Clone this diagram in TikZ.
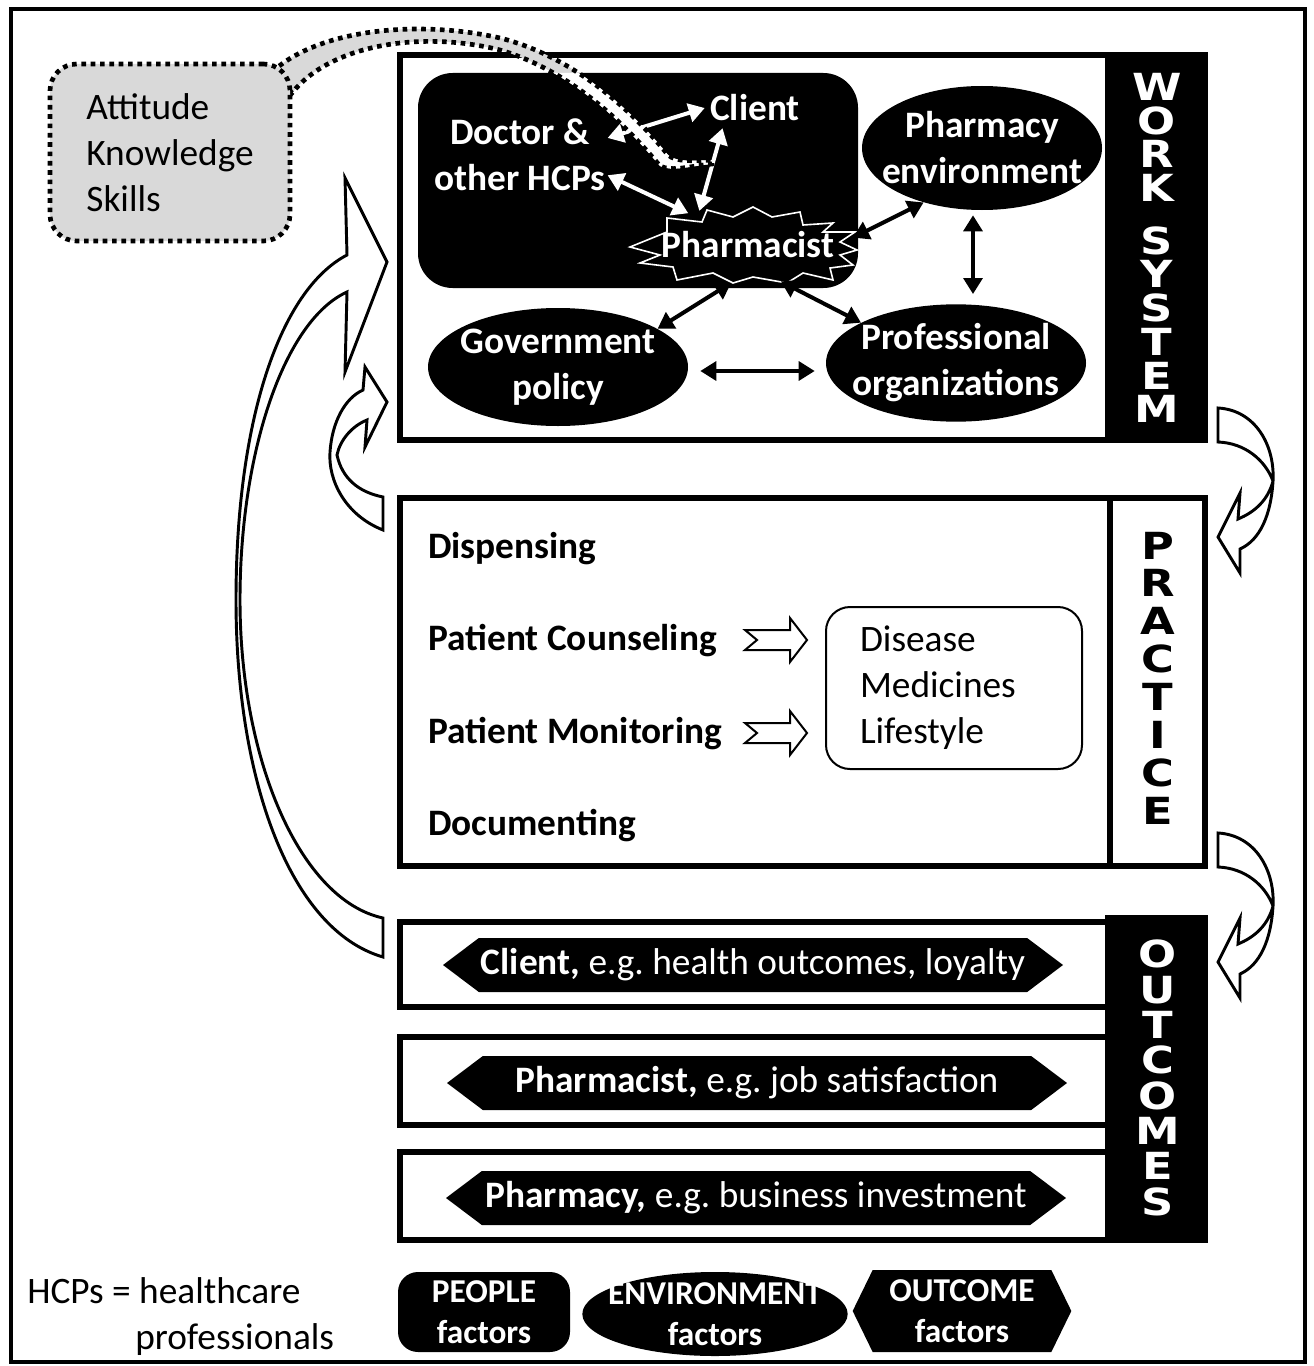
\documentclass[tikz,border=0pt]{standalone}
\usepackage{fontspec}
\setmainfont{Carlito}
\newfontfamily\vfont[FakeStretch=1.2]{DejaVu Sans}
\usetikzlibrary{arrows.meta,shapes.geometric,shapes.symbols,calc}
\definecolor{attgray}{RGB}{217,217,217}
\frenchspacing
\def\bandpath{(272,72) .. controls (320,28) and (420,20) .. (500,38)
  .. controls (580,58) and (640,120) .. (668,155)
  .. controls (676,162) and (692,161) .. (712,160) -- (712,164)
  .. controls (690,166) and (672,172) .. (660,166)
  .. controls (630,130) and (575,72) .. (500,50)
  .. controls (420,30) and (330,45) .. (292,93) -- cycle}
\begin{document}
\begin{tikzpicture}[x=0.75pt,y=-0.75pt,
  every node/.style={inner sep=0pt},
  fnt/.style={font=\fontsize{28}{34.5}\selectfont},
  fntb/.style={font=\fontsize{28}{34.5}\selectfont\bfseries},
  wtxt/.style={fntb, text=white, align=center},
  fixell/.style={ellipse, inner xsep=-40pt, inner ysep=-25pt},
  blkell/.style={fixell, fill=black, wtxt},
  dw/.style={draw=white, line width=3pt, {Triangle[length=12pt,width=14pt]}-{Triangle[length=12pt,width=14pt]}},
  dk/.style={draw=black, line width=3pt, {Triangle[length=12pt,width=14pt]}-{Triangle[length=12pt,width=14pt]}},
  frame/.style={line width=4pt},
  dotline/.style={line width=3.5pt, dash pattern=on 3.5pt off 3.5pt},
  dotb/.style={dotline, fill=attgray},
  blockarrow/.style={draw=black, fill=white, line width=1.5pt, line join=miter},
  curvearrow/.style={draw=black, fill=white, line width=2.2pt, line join=miter},
  vl/.style={align=center},
  outhex/.style={signal, signal to=west and east, signal pointer angle=74, fill=black, text=white, fnt, minimum height=40.5pt, minimum width=465pt},
  legtxt/.style={text=white, font=\fontsize{25}{31}\selectfont\bfseries, align=center}
]
\useasboundingbox (0,0) rectangle (1313,1366);
\fill[white] (0,0) rectangle (1313,1366);
\draw[line width=3pt] (11,9) rectangle (1305,1362);

% ---------- WORK SYSTEM ----------
\draw[frame] (400,55) rectangle (1108,440);
\filldraw[frame] (1108,55) rectangle (1205,440);
\fill[rounded corners=26pt] (418,73) rectangle (858,288);
\node[vl, text=white, font=\vfont\bfseries\fontsize{28}{25.3}\selectfont] (wsl) at (1157,248) {W\\O\\R\\K\\[14pt]S\\Y\\S\\T\\E\\M};

\draw[white, fill=black, line width=1.2pt, line join=miter]
  (630,247) -- (667,232) -- (667,218) -- (702,222) -- (707,210) -- (733,217) -- (753,207) -- (772,217)
  -- (800,212) -- (803,225) -- (833,223) -- (823,232) -- (855,232) -- (840,242) -- (857,250) -- (840,255)
  -- (853,265) -- (830,268) -- (833,280) -- (803,273) -- (787,283) -- (753,277) -- (733,283) -- (713,273)
  -- (677,280) -- (673,267) -- (640,263) -- (660,255) -- cycle;

\node[wtxt, minimum width=131pt, minimum height=68pt] (doc) at (520,155) {Doctor \&\\other HCPs};
\node[wtxt, minimum width=75pt, minimum height=30pt] (cli) at (755,108) {Client};
\node[wtxt, fixell, minimum width=160pt, minimum height=57pt] (pha) at (748,245) {Pharmacist};
\node[blkell, minimum width=180pt, minimum height=93pt] (env) at (982,148) {Pharmacy\\environment};
\node[blkell, minimum width=195pt, minimum height=88.5pt] (gov) at (558,367) {Government\\policy};
\node[blkell, minimum width=195pt, minimum height=88pt] (prof) at (956,363) {Professional\\organizations};

\draw[dw] (doc.11) -- (cli.west);
\draw[dw] (doc.-13) -- (pha.152);
\draw[dw] (cli.212) -- (pha.145);
\draw[dk] (pha.4) -- (env.223);
\draw[dk] (pha.-48) -- (prof.157);
\draw[dk] (pha.-114) -- (gov.21);
\draw[dk] ($(gov.east)+(12,4)$) -- ($(prof.west)+(-11,8)$);
\draw[dk] ($(env.south)+(-9,5)$) -- ($(prof.north)+(17,-10)$);

% ---------- Attitude band and box ----------
\fill[attgray] \bandpath;
\begin{scope}
  \clip[rounded corners=26pt] (418,73) rectangle (858,288);
  \fill[white] \bandpath;
\end{scope}
\draw[dotline] \bandpath;
\node[draw, dotb, rounded corners=20pt, minimum width=180pt, minimum height=132.75pt, fnt, align=left] (atk) at (170,152.5) {Attitude\\Knowledge\\Skills};

% ---------- PRACTICE ----------
\draw[frame] (400,498) rectangle (1110,866);
\draw[frame] (1110,498) rectangle (1205,866);
\node[vl, font=\vfont\bfseries\fontsize{28}{28.4}\selectfont] (prl) at (1158,678) {P\\R\\A\\C\\T\\I\\C\\E};
\node[fntb, anchor=west] (disp) at (428,549) {Dispensing};
\node[fntb, anchor=west] (couns) at (428,641) {Patient Counseling};
\node[fntb, anchor=west] (monit) at (428,734) {Patient Monitoring};
\node[fntb, anchor=west] (docu) at (428,826) {Documenting};
\draw[blockarrow] (745,630) -- (790,630) -- (790,618) -- (807,640) -- (790,662) -- (790,650) -- (745,650) -- (757,640) -- cycle;
\draw[blockarrow] (745,723) -- (790,723) -- (790,711) -- (807,733) -- (790,755) -- (790,743) -- (745,743) -- (757,733) -- cycle;
\node[draw, line width=1.5pt, rounded corners=18pt, fnt, align=left, text width=141pt, inner xsep=25.5pt, minimum height=121.5pt] (info) at (954,688) {Disease\\Medicines\\Lifestyle};

% ---------- OUTCOMES ----------
\filldraw[frame] (1108,918) rectangle (1205,1240);
\draw[frame, fill=white] (400,922) rectangle (1108,1007);
\draw[frame, fill=white] (400,1037) rectangle (1108,1125);
\draw[frame, fill=white] (400,1152) rectangle (1108,1240);
\node[vl, text=white, font=\vfont\bfseries\fontsize{28}{26.5}\selectfont] (oul) at (1158,1078) {O\\U\\T\\C\\O\\M\\E\\S};
\node[outhex] (oc1) at (753,965) {\textbf{Client,} e.g. health outcomes, loyalty};
\node[outhex] (oc2) at (757,1083) {\textbf{Pharmacist,} e.g. job satisfaction};
\node[outhex] (oc3) at (756,1198) {\textbf{Pharmacy,} e.g. business investment};

% ---------- curved arrows ----------
\draw[curvearrow] (383,957) .. controls (290,930) and (236,780) .. (236,600)
  .. controls (236,420) and (280,290) .. (347,255) -- (345,178) -- (387,262) -- (345,372) -- (347,292)
  .. controls (285,320) and (240,450) .. (240,600)
  .. controls (240,760) and (300,900) .. (383,918) -- cycle;
\draw[curvearrow] (383,530) .. controls (345,515) and (328,480) .. (330,452)
  .. controls (332,422) and (345,398) .. (363,390) -- (365,367) -- (387,402) -- (365,447) -- (367,420)
  .. controls (352,426) and (340,440) .. (337,455)
  .. controls (342,478) and (358,492) .. (383,497) -- cycle;
\draw[curvearrow] (1218,408) .. controls (1255,410) and (1275,445) .. (1273,481)
  .. controls (1271,515) and (1260,540) .. (1240,549) -- (1240,573) -- (1218,537) -- (1240,493) -- (1238,519)
  .. controls (1255,512) and (1268,500) .. (1273,481)
  .. controls (1265,460) and (1245,443) .. (1218,442) -- cycle;
\draw[curvearrow] (1218,833) .. controls (1255,835) and (1275,870) .. (1273,906)
  .. controls (1271,940) and (1260,965) .. (1240,974) -- (1240,998) -- (1218,962) -- (1240,918) -- (1238,944)
  .. controls (1255,937) and (1268,925) .. (1273,906)
  .. controls (1265,885) and (1245,868) .. (1218,867) -- cycle;

% ---------- legend ----------
\node[fnt, align=left, anchor=west] (hcp) at (27,1317) {HCPs = healthcare\\\hspace*{81pt}professionals};
\node[fill=black, rounded corners=15pt, minimum width=129pt, minimum height=60pt, legtxt] (peo) at (484,1312) {PEOPLE\\factors};
\node[fixell, fill=black, minimum width=199pt, minimum height=63pt, legtxt] (envl) at (715,1314) {ENVIRONMENT\\factors};
\node[signal, signal to=west and east, signal pointer angle=128, fill=black, minimum width=164pt, minimum height=61.5pt, legtxt] (outl) at (962,1311) {OUTCOME\\factors};
\end{tikzpicture}
\end{document}
